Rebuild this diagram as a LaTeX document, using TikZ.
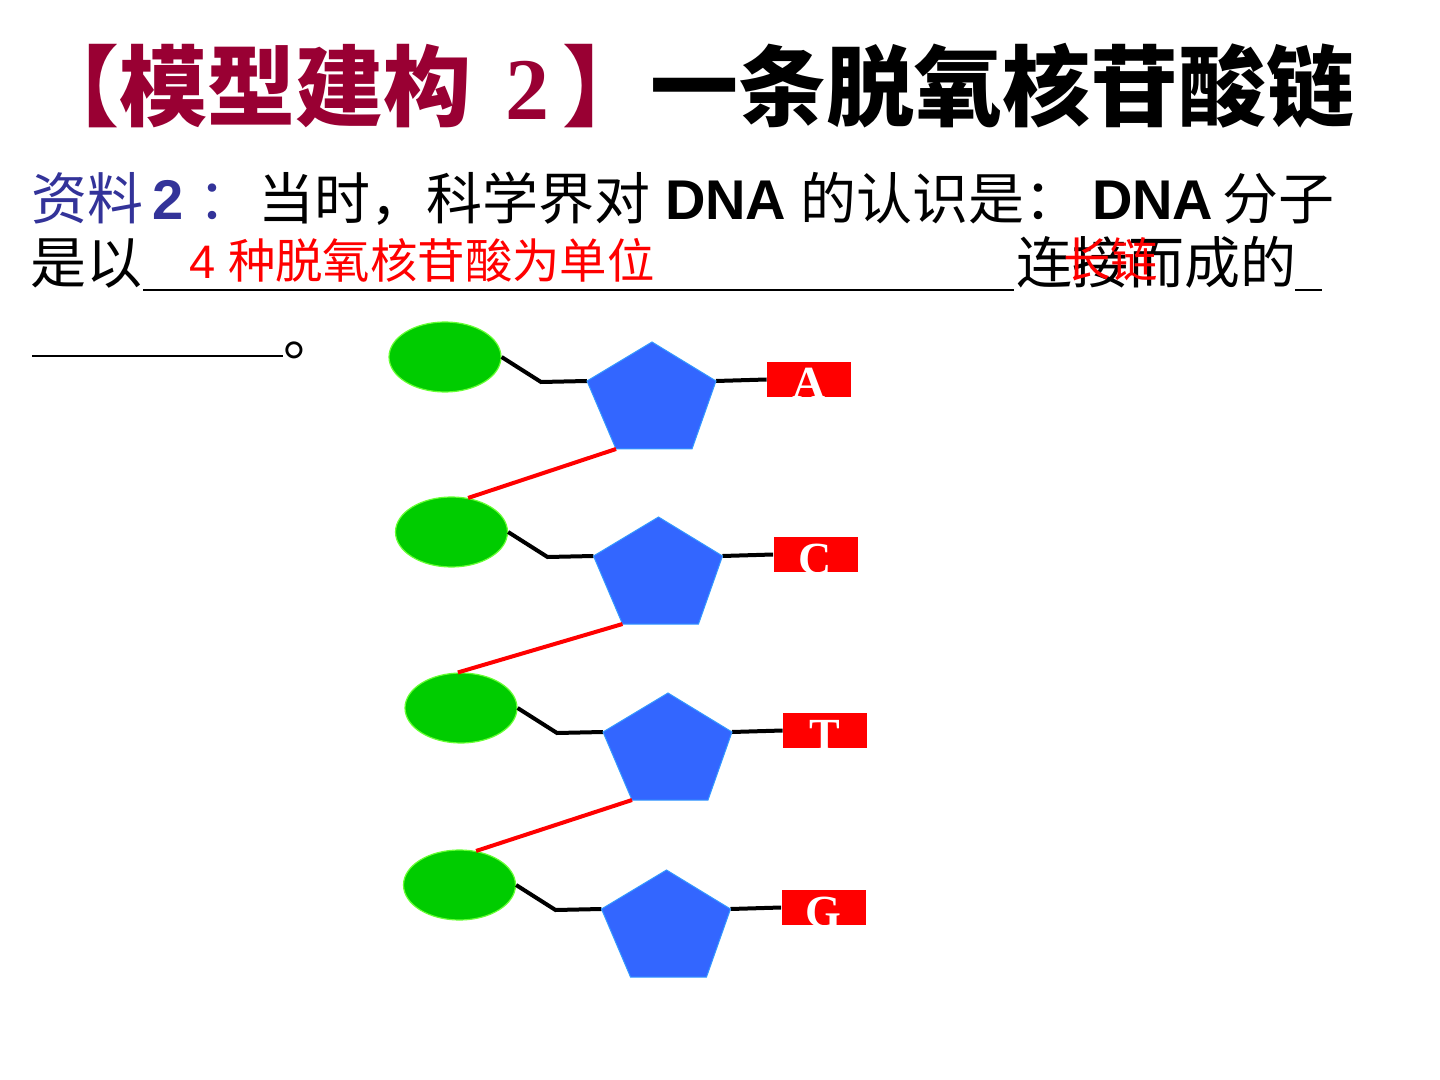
\documentclass[tikz,border=0pt]{standalone}
\usepackage{fontspec}
\setmainfont{Liberation Sans}
\newfontfamily\cjk{Noto Sans CJK SC}
\newfontfamily\serifb{Liberation Serif}
\usetikzlibrary{shapes.geometric}
\definecolor{titlered}{HTML}{990033}
\definecolor{infoblue}{HTML}{333399}
\definecolor{basegreen}{HTML}{00CC00}
\definecolor{baseedge}{HTML}{66FF33}
\definecolor{sugarblue}{HTML}{3366FF}
\definecolor{sugaredge}{HTML}{3399FF}
\begin{document}
\begin{tikzpicture}[x=0.5pt,y=-0.5pt,
  txt/.style={inner sep=0pt,outer sep=0pt,anchor=base west},
  titlefont/.style={font=\cjk\bfseries\fontsize{44}{44}\selectfont},
  bodycjk/.style={font=\cjk\fontsize{28}{28}\selectfont},
  bodylat/.style={font=\bfseries\fontsize{28}{28}\selectfont},
  answer/.style={text=red,font=\cjk\fontsize{23.7}{24}\selectfont},
  phos/.style={ellipse,fill=basegreen,draw=baseedge,line width=0.6pt,minimum width=56pt,minimum height=35pt,inner sep=0pt},
  sugar/.style={fill=sugarblue,draw=sugaredge,line width=0.5pt},
  basebox/.style={fill=red,minimum width=42pt,minimum height=17.5pt,inner sep=0pt},
  baseletter/.style={inner sep=0pt,anchor=base,text=white,font=\serifb\bfseries\fontsize{23}{23}\selectfont},
  bond/.style={line width=2pt,black},
  chain/.style={line width=2pt,red},
  blank/.style={line width=1pt,black}]
\useasboundingbox (0,0) rectangle (1440,1080);
\fill[white] (0,0) rectangle (1440,1080);

% title
\node[txt,titlefont,text=titlered] (ta) at (32,120) {【模型建构};
\node[txt,text=titlered,font=\serifb\bfseries\fontsize{44}{44}\selectfont] (tb) at (505,120) {2};
\node[txt,titlefont,text=titlered] (tc) at (562,120) {】};
\node[txt,titlefont,text=black] (td) at (650,120) {一条脱氧核苷酸链};

% line 2
\node[txt,bodycjk,text=infoblue] (m1) at (32,220) {资料};
\node[txt,bodylat,text=infoblue] (m2) at (152,220) {2};
\node[txt,bodycjk,text=infoblue] (m3) at (198,220) {：};
\node[txt,bodycjk] (m4) at (258,220) {当时，科学界对};
\node[txt,bodylat] (m5) at (665,220) {DNA};
\node[txt,bodycjk] (m6) at (800,220) {的认识是：};
\node[txt,bodylat] (m7) at (1092,220) {DNA};
\node[txt,bodycjk] (m8) at (1222,220) {分子};

% line 3
\node[txt,bodycjk] (n1) at (31,284) {是以};
\draw[blank] (143,290) -- (1014,290);
\node[txt,text=red,font=\fontsize{23.5}{24}\selectfont] (n2) at (189,279) {4};
\node[txt,answer] (n3) at (228,279) {种脱氧核苷酸为单位};
\node[txt,bodycjk] (n4) at (1016,284) {连接而成的};
\node[txt,answer] (n5) at (1063,278) {长链};
\draw[blank] (1295,290) -- (1322,290);

% line 4
\draw[blank] (32,356) -- (283,356);
\node[txt,bodycjk] (n6) at (283,356) {。};

% nucleotides
\foreach \i/\dx/\dy/\L in {1/0/0/A,2/6.5/175/C,3/16/351/T,4/14.5/528/G}{
  \begin{scope}[shift={(\dx,\dy)}]
    \node[phos] (e\i) at (445,357) {};
    \coordinate (k\i) at (541,382);
    \coordinate (s\i-1) at (652,342);
    \coordinate (s\i-2) at (587,381);
    \coordinate (s\i-3) at (616,449);
    \coordinate (s\i-4) at (692,449);
    \coordinate (s\i-5) at (716,381);
    \node[basebox] (b\i) at (809,379.5) {};
    \node[baseletter] (l\i) at (809,399) {\L};
  \end{scope}
  \draw[bond] (e\i.east) -- (k\i) -- (s\i-2);
  \draw[bond] (s\i-5) -- (b\i.west);
  \filldraw[sugar] (s\i-1) -- (s\i-2) -- (s\i-3) -- (s\i-4) -- (s\i-5) -- cycle;
}
\draw[chain] (s1-3) -- (e2.64);
\draw[chain] (s2-3) -- (e3.95);
\draw[chain] (s3-3) -- (e4.64);
\end{tikzpicture}
\end{document}
